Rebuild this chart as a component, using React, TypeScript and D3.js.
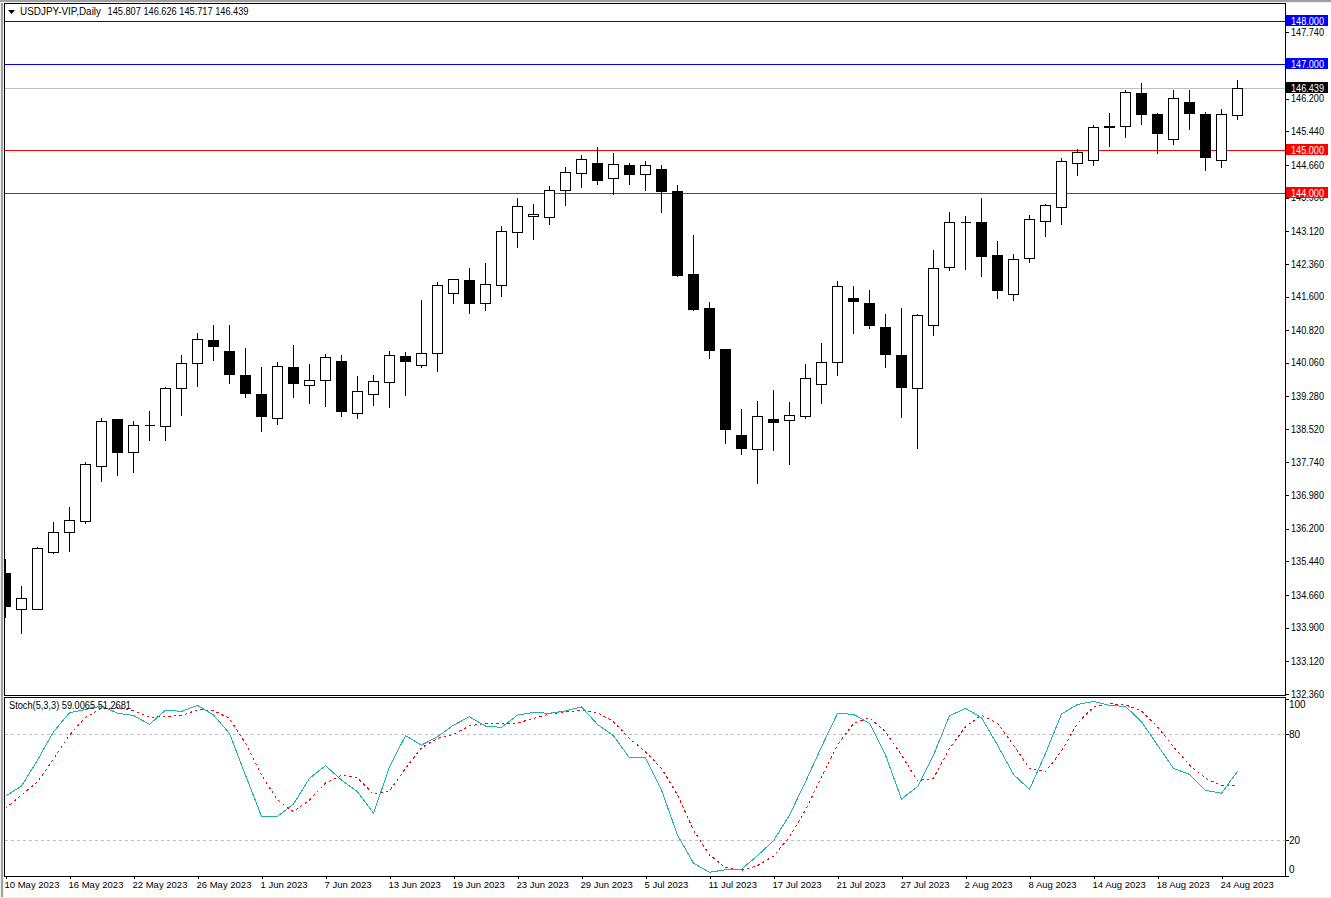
import { useEffect, useRef } from "react";
import * as d3 from "d3";

// daily bars, 10 May 2023 .. 25 Aug 2023
const opens = [
  135.169, 134.325, 134.325, 135.642, 136.116, 136.362, 137.651, 138.728, 137.976, 138.604,
  138.581, 139.465, 140.046, 140.588, 140.332, 139.774, 139.332, 138.767, 139.96, 139.525,
  139.651, 140.1, 138.883, 139.325, 139.604, 140.216, 140.0, 140.279, 141.674, 141.983,
  141.442, 141.86, 143.093, 143.465, 143.442, 144.069, 144.465, 144.704, 144.348, 144.635,
  144.442, 144.542, 144.053, 142.123, 141.332, 140.379, 138.379, 138.046, 138.728, 138.721,
  138.814, 139.558, 140.069, 141.565, 141.448, 140.89, 140.239, 139.465, 140.93, 142.279,
  143.325, 143.332, 142.542, 141.651, 142.488, 143.348, 143.674, 144.697, 144.767, 145.565,
  145.558, 146.332, 145.821, 145.255, 146.123, 145.844, 144.767, 145.807,
];
const highs = [
  135.495, 134.867, 135.774, 136.355, 136.704, 137.728, 138.767, 138.751, 138.704, 138.937,
  139.495, 140.239, 140.728, 140.937, 140.937, 140.402, 139.96, 140.076, 140.472, 140.007,
  140.262, 140.239, 139.751, 139.774, 140.332, 140.309, 141.518, 141.914, 142.0, 142.262,
  142.379, 143.232, 143.89, 143.728, 144.169, 144.611, 144.89, 145.076, 144.914, 144.704,
  144.751, 144.658, 144.193, 143.007, 141.472, 140.379, 138.983, 139.169, 139.425, 139.146,
  140.007, 140.518, 141.96, 141.821, 141.751, 141.193, 141.332, 141.193, 142.681, 143.542,
  143.472, 143.89, 142.89, 142.588, 143.495, 143.751, 144.814, 145.007, 145.588, 145.867,
  146.402, 146.565, 145.867, 146.402, 146.402, 145.89, 145.96, 146.626,
];
const lows = [
  134.13, 133.758, 134.325, 135.618, 135.665, 136.316, 137.293, 137.432, 137.502, 138.246,
  138.246, 138.828, 139.502, 140.107, 139.572, 139.246, 138.455, 138.618, 139.246, 139.107,
  139.037, 138.804, 138.758, 139.06, 139.014, 139.293, 139.944, 139.851, 141.432, 141.2,
  141.269, 141.595, 142.735, 142.921, 143.269, 143.711, 144.13, 144.2, 143.967, 144.2,
  144.06, 143.548, 142.06, 141.269, 140.153, 138.176, 137.921, 137.246, 138.014, 137.688,
  138.758, 139.107, 139.758, 140.735, 140.851, 139.944, 138.781, 138.06, 140.688, 142.2,
  142.223, 142.06, 141.548, 141.502, 142.386, 142.99, 143.269, 144.409, 144.642, 145.083,
  145.293, 145.595, 144.921, 145.13, 145.479, 144.525, 144.595, 145.717,
];
const closes = [
  134.386, 134.581, 135.744, 136.116, 136.395, 137.697, 138.697, 137.967, 138.604, 138.604,
  139.465, 140.046, 140.604, 140.432, 139.781, 139.339, 138.804, 139.976, 139.572, 139.651,
  140.186, 138.921, 139.395, 139.628, 140.232, 140.083, 140.279, 141.86, 142.0, 141.432,
  141.883, 143.116, 143.697, 143.511, 144.069, 144.488, 144.79, 144.293, 144.674, 144.432,
  144.651, 144.037, 142.083, 141.293, 140.339, 138.502, 138.06, 138.814, 138.681, 138.837,
  139.697, 140.069, 141.837, 141.479, 140.921, 140.246, 139.479, 141.162, 142.255, 143.325,
  143.325, 142.525, 141.735, 142.465, 143.395, 143.721, 144.744, 144.953, 145.535, 145.525,
  146.348, 145.828, 145.386, 146.209, 145.851, 144.828, 145.837, 146.439,
];

const stochMain = [
  45.0, 50.7, 65.4, 81.4, 92.2, 94.1, 96.0, 91.9, 90.7, 85.6, 93.7, 93.0, 96.4, 90.9, 80.5, 56.9,
  33.6, 33.6, 40.5, 55.1, 62.3, 54.1, 47.5, 35.3, 61.6, 79.2, 73.9, 78.6, 85.2, 89.9, 84.7, 83.9,
  90.9, 92.4, 91.9, 93.2, 95.6, 85.6, 79.2, 66.6, 66.6, 48.4, 23.0, 7.0, 1.9, 3.3, 3.6, 11.3,
  19.8, 34.3, 53.1, 72.9, 91.9, 91.3, 86.2, 68.2, 43.4, 50.3, 68.2, 90.5, 94.7, 89.4, 73.9, 57.3,
  48.8, 69.2, 91.5, 96.9, 98.6, 96.4, 95.8, 87.1, 73.9, 60.7, 57.3, 48.3, 46.6, 59.0065,
];
const stochSignal = [
  38.1, 45.6, 53.1, 66.0, 79.6, 89.6, 94.7, 95.0, 93.5, 89.6, 90.2, 90.5, 93.9, 93.5, 89.0, 74.9,
  56.9, 42.8, 36.2, 42.8, 52.4, 56.9, 55.4, 46.0, 47.9, 60.7, 72.4, 77.7, 80.0, 84.8, 86.2, 86.2,
  86.4, 89.0, 91.5, 92.8, 93.5, 92.4, 87.1, 77.7, 70.1, 60.7, 45.6, 25.8, 11.7, 4.5, 3.0, 5.6,
  11.1, 22.0, 37.1, 56.0, 73.9, 86.2, 89.4, 81.4, 68.2, 53.7, 55.1, 72.0, 84.3, 90.9, 86.2, 73.9,
  60.7, 58.8, 70.5, 86.2, 95.6, 97.3, 96.7, 93.2, 84.3, 72.9, 62.6, 55.1, 50.9, 51.2681,
];

const priceTicks = [
  147.74, 146.2, 145.44, 144.66, 143.9, 143.12, 142.36, 141.6, 140.82, 140.06, 139.28, 138.52,
  137.74, 136.98, 136.2, 135.44, 134.66, 133.9, 133.12, 132.36,
];
const stochTicks = [100, 80, 20, 0];
const stochLevels = [80, 20];
const dateLabels = [
  "10 May 2023", "16 May 2023", "22 May 2023", "26 May 2023", "1 Jun 2023", "7 Jun 2023",
  "13 Jun 2023", "19 Jun 2023", "23 Jun 2023", "29 Jun 2023", "5 Jul 2023", "11 Jul 2023",
  "17 Jul 2023", "21 Jul 2023", "27 Jul 2023", "2 Aug 2023", "8 Aug 2023", "14 Aug 2023",
  "18 Aug 2023", "24 Aug 2023",
];
const BARS_PER_DATE = 4;
const levels = [
  { price: 148, color: "#0000ff" },
  { price: 147, color: "#0000ff" },
  { price: 145, color: "#ff0000" },
  { price: 144, color: "#ff0000" },
];
const lastPrice = 146.439;

const FONT = "'Liberation Sans', sans-serif";
const FONT_SIZE = 10;
const PRICE_WIDTH = 33;

export default function App() {
  const svgRef = useRef<SVGSVGElement>(null);

  useEffect(() => {
    if (!svgRef.current) return;
    const svg = d3.select(svgRef.current);
    svg.selectAll("*").remove();

    const width = 1331;
    const height = 898;
    const left = 4.5;
    const right = 1285.5;
    const top = 3.5;
    const mainBottom = 695.5;
    const subTop = 697.5;
    const subBottom = 876.5;

    const x = d3.scaleLinear().domain([0, 77]).range([5.5, 1237.5]);
    const y = d3.scaleLinear().domain([147, 145]).range([64.3, 150.3]);
    const ys = d3.scaleLinear().domain([100, 0]).range([699, 875.6]);
    const py = (v: number) => Math.round(y(v) - 0.5) + 0.5;

    svg.attr("font-family", FONT).attr("font-size", FONT_SIZE);

    // window chrome
    svg.append("rect").attr("width", width).attr("height", height).attr("fill", "#ffffff");
    svg.append("rect").attr("width", 4).attr("height", height).attr("fill", "#f0f0f0");
    svg.append("rect").attr("x", 1).attr("width", 2).attr("height", height).attr("fill", "#a0a0a0");
    svg.append("rect").attr("width", width).attr("height", 3).attr("fill", "#f0f0f0");
    svg.append("rect").attr("width", width).attr("height", 2).attr("fill", "#a0a0a0");
    svg.append("rect").attr("y", 897).attr("width", width).attr("height", 1).attr("fill", "#f0f0f0");

    const defs = svg.append("defs");
    defs
      .append("clipPath")
      .attr("id", "main-clip")
      .append("rect")
      .attr("x", left)
      .attr("y", top)
      .attr("width", right - left)
      .attr("height", mainBottom - top);
    defs
      .append("clipPath")
      .attr("id", "sub-clip")
      .append("rect")
      .attr("x", left)
      .attr("y", subTop)
      .attr("width", right - left)
      .attr("height", subBottom - subTop);

    // horizontal levels behind the candles
    const main = svg.append("g").attr("clip-path", "url(#main-clip)").attr("shape-rendering", "crispEdges");
    main
      .selectAll(".level")
      .data(levels)
      .enter()
      .append("line")
      .attr("x1", left)
      .attr("x2", right)
      .attr("y1", (d) => py(d.price))
      .attr("y2", (d) => py(d.price))
      .attr("stroke", (d) => d.color);
    main
      .append("line")
      .attr("x1", left)
      .attr("x2", right)
      .attr("y1", py(lastPrice))
      .attr("y2", py(lastPrice))
      .attr("stroke", "#c0c0c0");

    // candles (a path, so that a doji with open == close still draws its bar)
    const candle = main.selectAll(".candle").data(opens).enter().append("g");
    candle
      .append("line")
      .attr("x1", (_, i) => x(i))
      .attr("x2", (_, i) => x(i))
      .attr("y1", (_, i) => py(highs[i]) - 0.5)
      .attr("y2", (_, i) => py(lows[i]) + 0.5)
      .attr("stroke", "#000000");
    candle
      .append("path")
      .attr("d", (o, i) => {
        const y0 = py(Math.max(o, closes[i]));
        const y1 = py(Math.min(o, closes[i]));
        return `M${x(i) - 5},${y0}H${x(i) + 5}V${y1}H${x(i) - 5}Z`;
      })
      .attr("fill", (o, i) => (closes[i] < o ? "#000000" : "#ffffff"))
      .attr("stroke", "#000000");

    // panel frames
    const frame = svg.append("g").attr("shape-rendering", "crispEdges").attr("fill", "none").attr("stroke", "#000000");
    frame.append("rect").attr("x", left).attr("y", top).attr("width", right - left).attr("height", mainBottom - top);
    frame.append("rect").attr("x", left).attr("y", subTop).attr("width", right - left).attr("height", subBottom - subTop);

    // price axis
    const priceAxis = svg
      .append("g")
      .attr("transform", `translate(${right},0)`)
      .attr("shape-rendering", "crispEdges")
      .call(
        d3
          .axisRight(y)
          .tickValues(priceTicks)
          .tickSize(3)
          .tickPadding(2.5)
          .tickFormat((d) => d3.format(".3f")(d as number))
      );
    priceAxis.select(".domain").remove();
    priceAxis
      .selectAll("text")
      .attr("font-family", FONT)
      .attr("font-size", FONT_SIZE)
      .attr("fill", "#000000")
      .attr("y", 0)
      .attr("textLength", PRICE_WIDTH)
      .attr("lengthAdjust", "spacingAndGlyphs");

    // coloured price tags sit on top of the ticks
    const tags = [...levels, { price: lastPrice, color: "#000000" }];
    const tag = svg.selectAll(".tag").data(tags).enter().append("g");
    tag
      .append("rect")
      .attr("x", 1286)
      .attr("y", (d) => py(d.price) - 6.5)
      .attr("width", 42)
      .attr("height", 11)
      .attr("fill", (d) => d.color)
      .attr("shape-rendering", "crispEdges");
    tag
      .append("text")
      .attr("x", right + 5.5)
      .attr("y", (d) => py(d.price))
      .attr("dy", "0.32em")
      .attr("fill", "#ffffff")
      .attr("textLength", PRICE_WIDTH)
      .attr("lengthAdjust", "spacingAndGlyphs")
      .text((d) => d3.format(".3f")(d.price));

    // stochastic pane
    const sub = svg.append("g").attr("clip-path", "url(#sub-clip)");
    sub
      .selectAll(".stoch-level")
      .data(stochLevels)
      .enter()
      .append("line")
      .attr("x1", left)
      .attr("x2", right)
      .attr("y1", (d) => Math.round(ys(d) - 0.5) + 0.5)
      .attr("y2", (d) => Math.round(ys(d) - 0.5) + 0.5)
      .attr("stroke", "#c0c0c0")
      .attr("stroke-dasharray", "3,3")
      .attr("shape-rendering", "crispEdges");

    const stochLine = d3
      .line<number>()
      .x((_, i) => x(i))
      .y((d) => ys(d));
    sub
      .append("path")
      .attr("d", stochLine(stochSignal))
      .attr("fill", "none")
      .attr("stroke", "#ff0000")
      .attr("stroke-dasharray", "2.5,3")
      .attr("shape-rendering", "crispEdges");
    sub
      .append("path")
      .attr("d", stochLine(stochMain))
      .attr("fill", "none")
      .attr("stroke", "#20b2aa")
      .attr("shape-rendering", "crispEdges");

    const stochAxis = svg
      .append("g")
      .attr("transform", `translate(${right},0)`)
      .attr("shape-rendering", "crispEdges")
      .call(d3.axisRight(ys).tickValues(stochTicks).tickSize(3).tickPadding(0.5));
    stochAxis.select(".domain").remove();
    stochAxis
      .selectAll<SVGTextElement, number>("text")
      .attr("font-family", FONT)
      .attr("font-size", FONT_SIZE)
      .attr("fill", "#000000")
      // 100 and 0 are pulled inside the pane
      .attr("y", (d) => (d === 100 ? 5.5 : d === 0 ? -6 : 0));

    // date axis
    const dateAxis = svg
      .append("g")
      .attr("transform", `translate(0,${subBottom})`)
      .attr("shape-rendering", "crispEdges")
      .call(
        d3
          .axisBottom(x)
          .tickValues(dateLabels.map((_, i) => i * BARS_PER_DATE))
          .tickSize(2)
          .tickPadding(3)
          .tickFormat((_, i) => dateLabels[i])
      );
    dateAxis.select(".domain").remove();
    dateAxis
      .selectAll("text")
      .attr("font-family", FONT)
      .attr("font-size", 9.5)
      .attr("fill", "#000000")
      .attr("text-anchor", "start")
      .attr("dx", -1.5);

    // titles
    svg.append("path").attr("d", "M8,10 L15,10 L11.5,14 Z").attr("fill", "#000000");
    svg
      .append("text")
      .attr("x", 20)
      .attr("y", 15)
      .attr("fill", "#000000")
      .attr("textLength", 81)
      .attr("lengthAdjust", "spacingAndGlyphs")
      .text("USDJPY-VIP,Daily");
    svg
      .append("text")
      .attr("x", 107.5)
      .attr("y", 15)
      .attr("fill", "#000000")
      .attr("textLength", 141)
      .attr("lengthAdjust", "spacingAndGlyphs")
      .text("145.807 146.626 145.717 146.439");
    svg
      .append("text")
      .attr("x", 9)
      .attr("y", 709)
      .attr("fill", "#000000")
      .attr("textLength", 122)
      .attr("lengthAdjust", "spacingAndGlyphs")
      .text("Stoch(5,3,3) 59.0065 51.2681");
  }, []);

  return <svg ref={svgRef} width={1331} height={898} style={{ position: "absolute", left: 0, top: 0 }}></svg>;
}
